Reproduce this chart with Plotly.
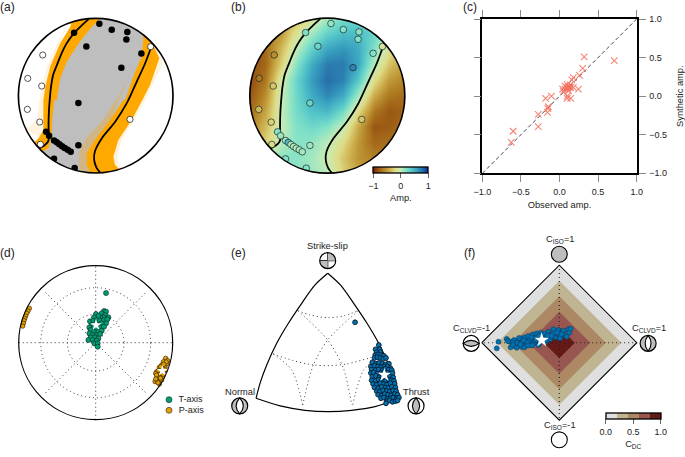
import plotly.graph_objects as go

W, H = 685, 457
FONT = "Liberation Sans"
INK = "#222222"

# ---------- DATA ----------
# (a)/(b) stations on the focal sphere projection
pos_x = [-.28, .047, .207, .409, .397, -.121, .591, .332, -.224, -.642, -.603, -.539, -.504, -.47, -.435, -.401, -.362, -.323, -.224, -.539, -.272]
pos_y = [.815, .931, .853, .823, .728, .638, .547, .362, -.095, -.466, -.517, -.578, -.603, -.629, -.655, -.677, -.698, -.724, -.642, -.815, -.935]
neg_x = [-.685, -.879, -.698, -.884, -.724, -.716, .711, .444]
neg_y = [.526, .224, .125, -.177, -.341, -.629, .634, -.306]
pos_amp = [.22, .15, .2, .18, .2, .3, .2, .72, .3, .2, .12, .12, .45, .1, .07, .08, .1, .1, .12, .2, .2]
neg_amp = [-.55, -.65, -.3, -.35, -.25, -.2, -.1, -.3]

nodal_left_x = [-.09, -.17, -.28, -.38, -.44, -.50, -.55, -.58, -.59, -.605, -.61, -.605, -.62, -.66, -.73]
nodal_left_y = [.995, .92, .81, .67, .55, .40, .27, .10, 0, -.2, -.4, -.55, -.6, -.64, -.68]
nodal_right_x = [.74, .72, .64, .53, .40, .25, .08, -.01, -.02, .01, .06]
nodal_right_y = [.67, .63, .42, .18, -.10, -.34, -.55, -.72, -.83, -.93, -.998]

gray_x = nodal_left_x[::-1] + [-.09, 0, .85] + nodal_right_x + [.06, -.85]
gray_y = nodal_left_y[::-1] + [.995, 1.1, 1.1] + nodal_right_y + [-1.1, -1.1]

band_left_x = [-.30, -.33, -.46, -.59, -.647, -.677, -.677, -.677, -.74, -.80, -.68, -.61, -.57, -.56, -.534, -.504, -.46, -.375, -.22, -.07, .04, .04]
band_left_y = [1.0, .89, .68, .375, .138, -.056, -.25, -.444, -.55, -.61, -.72, -.68, -.53, -.27, -.056, -.056, .224, .44, .68, .87, .98, 1.02]
fan_left_x = [-.36, -.5, -.63, -.69, -.73, -.76, -.90, -.62, -.62, -.36]
fan_left_y = [.94, .68, .375, .138, -.06, -.3, -.44, -.6, .3, .94]

band_right_x = [.70, .724, .823, .767, .703, .616, .466, .293, .228, .25, .328, .34, -.08, -.073, -.116, -.116, -.009, .185, .358, .38, .422, .509, .595, .616, .60]
band_right_y = [.72, .70, .483, .31, .138, -.034, -.315, -.573, -.789, -.897, -.97, -1.05, -1.05, -.983, -.897, -.746, -.573, -.315, -.056, -.056, .073, .31, .504, .741, .82]
fan_right_x = [.79, .87, .80, .72, .64, .49, .34, .28, .31, .40, .10, .10, .5, .79]
fan_right_y = [.60, .42, .27, .10, -.06, -.32, -.57, -.79, -.90, -1.0, -1.0, -.6, .1, .60]
fan_inner_x = [.45, .30, .10, -.12, -.21, -.22, -.20, .0, .0, .2, .45]
fan_inner_y = [.30, .0, -.30, -.55, -.72, -.86, -1.0, -1.0, -.7, -.3, .30]

# (b) amplitude grid
grid_x = [-1, -.8, -.6, -.4, -.2, 0, .2, .4, .6, .8, 1]
grid_y = [1, .8, .6, .4, .2, 0, -.2, -.4, -.6, -.8, -1]
amp_row_1 = [-.5, -.5, -.45, -.35, -.12, .1, .25, .3, .2, .05, -.1]
amp_row_2 = [-.7, -.65, -.5, -.13, .12, .33, .45, .45, .3, 0, -.3]
amp_row_3 = [-.85, -.72, -.35, .03, .35, .58, .65, .55, .2, -.15, -.4]
amp_row_4 = [-.85, -.72, -.25, .18, .55, .75, .75, .55, .05, -.32, -.5]
amp_row_5 = [-.85, -.65, -.06, .3, .62, .8, .72, .38, -.18, -.5, -.6]
amp_row_6 = [-.8, -.55, -.02, .28, .55, .7, .55, .1, -.42, -.65, -.7]
amp_row_7 = [-.7, -.45, 0, .25, .42, .47, .25, -.2, -.65, -.8, -.75]
amp_row_8 = [-.6, -.35, 0, .2, .28, .2, 0, -.42, -.8, -.78, -.7]
amp_row_9 = [-.5, -.25, .03, .2, .15, .03, -.2, -.5, -.72, -.68, -.6]
amp_row_10 = [-.05, .1, .18, .18, .1, -.02, -.3, -.52, -.6, -.55, -.5]
amp_row_11 = [.1, .15, .18, .17, .12, .03, -.25, -.42, -.5, -.5, -.45]
amp_rows = [amp_row_1, amp_row_2, amp_row_3, amp_row_4, amp_row_5, amp_row_6,
            amp_row_7, amp_row_8, amp_row_9, amp_row_10, amp_row_11]

# (c) observed vs synthetic amplitudes
obs_amp = [.32, .71, .30, .26, .18, .16, .10, .14, .07, .115, .095, .13, .105, .145, .07, .04, .18, .245, .115, .05, -.18, -.105, .10, .10, .145, -.145, -.155, -.275, -.275, -.60, -.625, -.15]
syn_amp = [.51, .46, .36, .27, .24, .21, .15, .145, .13, .12, .115, .115, .10, .115, .09, .09, .115, .09, .07, .06, -.03, 0, 0, -.03, -.03, -.136, -.21, -.235, -.395, -.455, -.60, -.16]
amp_ticks = [-1, -.5, 0, .5, 1]

# (d) axes of the moment tensor solutions
t_x = [.108, .134, .078, .121, .165, .1, .056, .004, .035, -.022, -.074, -.03, .013, .056, .108, .152, .134, .078, .035, -.052, -.082, -.03, .013, .065, .108, -.065, -.022, .035, .078, -.082, -.039, .013, .056, -.065, -.009, .035, -.095, -.039, .013, -.017, .026, .026, .134]
t_y = [.411, .403, .381, .359, .329, .329, .329, .372, .346, .329, .277, .286, .294, .286, .294, .303, .251, .251, .229, .229, .199, .186, .186, .199, .208, .165, .143, .143, .156, .121, .1, .1, .113, .069, .069, .056, .035, .035, .026, -.009, -.009, -.052, .645]
p_x = [.909, .935, .879, .922, .857, .827, .9, .792, .835, .87, .801, .779, .835, .771, .827, .801, .857, .89, .86, .845, .915, .90, .815, .79, .84, .81, .875, .885, .78, -.861, -.879, -.896, -.909, -.922, -.931, -.939, -.948]
p_y = [-.203, -.234, -.247, -.277, -.29, -.32, -.32, -.377, -.398, -.442, -.442, -.398, -.355, -.506, -.537, -.494, -.485, -.37, -.33, -.31, -.25, -.35, -.36, -.42, -.46, -.52, -.41, -.28, -.47, .446, .411, .381, .346, .316, .286, .251, .216]
t_best = (.004, .229)
p_best = (.866, -.364)

# (e) fault-type diagram
tri_left_x = [-.995, -.94, -.847, -.708, -.546, -.361, -.176, 0]
tri_left_y = [0, .208, .463, .764, 1.042, 1.319, 1.574, 1.736]
tri_right_x = [0, .176, .361, .546, .708, .847, .94, .995]
tri_right_y = [1.736, 1.574, 1.319, 1.042, .764, .463, .208, 0]
tri_bottom_x = [.995, .657, .333, .01, -.315, -.66, -.995]
tri_bottom_y = [0, -.116, -.167, -.185, -.167, -.106, 0]
grid_lines_e = [
    ([-.417, -.245, 0, .218, .426], [1.218, 1.157, 1.12, 1.144, 1.218]),
    ([-.755, -.477, -.199, .032, .264, .565, .796], [.616, .523, .463, .454, .477, .556, .625]),
    ([.426, 0, -.199, -.347], [1.218, .81, .463, -.093]),
    ([-.417, 0, .218, .333], [1.218, .81, .417, -.093]),
    ([-.755, -.5, -.347], [.616, .394, -.093]),
    ([.755, .5, .347], [.616, .394, -.093]),
]
fault_x = [.38, .71, .665, .72, .68, .73, .66, .70, .74, .78, .65, .69, .73, .77, .81,
           .62, .67, .71, .76, .80, .85, .60, .65, .70, .74, .79, .83, .87,
           .61, .66, .71, .76, .80, .85, .89, .60, .64, .69, .74, .78, .83, .88, .90,
           .62, .67, .72, .77, .81, .86, .91, .61, .66, .71, .75, .80, .85, .89, .92,
           .63, .68, .73, .78, .82, .87, .93, .65, .70, .75, .80, .84, .89, .94,
           .68, .72, .77, .82, .86, .91, .95, .70, .75, .79, .84, .88, .93, .97,
           .74, .78, .83, .87, .91, .96, .99, .82, .86, .90, .94, .97, .81]
fault_y = [1.056, .74, .68, .68, .64, .64, .60, .61, .60, .59, .56, .57, .56, .55, .56,
           .50, .48, .49, .48, .47, .48, .44, .45, .44, .43, .44, .44, .42,
           .40, .39, .40, .39, .41, .40, .39, .35, .36, .34, .35, .36, .35, .34, .35,
           .30, .31, .29, .30, .31, .30, .29, .25, .24, .26, .25, .24, .26, .25, .24,
           .20, .19, .21, .20, .19, .21, .20, .15, .14, .16, .15, .14, .16, .15,
           .10, .09, .11, .10, .09, .11, .10, .05, .04, .06, .05, .04, .06, .05,
           .00, .01, -.01, .00, .01, .00, .01, -.04, -.03, -.05, -.04, -.03, -.07]
fault_best = (.787, .324)

# (f) source type diagram
cdc_edge = [1, .8, .6, .4, .2]
cdc_levels = [0, .25, .5, .75, 1]
cdc_ticks = [0, .5, 1]
cdc_colors = ["#dfdfdf", "#bfb592", "#ad8864", "#985650", "#651a18"]
src_x = [-.785, -.807, -.678, -.635, -.584, -.627, -.571, -.584, -.528, -.528, -.485, -.485, -.485, -.442, -.442, -.429, -.399, -.386, -.378, -.343, -.335, -.326, -.292, -.283, -.27, -.24, -.227, -.185, -.172, -.172, -.142, -.12, -.12, -.077, -.069, -.056, -.013, 0, .009, .052, .06, .116, .129, .094, .146, -.55, -.46, -.41, -.36, -.31, -.26, -.2, -.15, -.09, -.03, .03, -.52, -.6, -.66, -.6, -.55, -.5, -.45, -.4, -.35, -.3, -.25, -.2, -.16, -.1]
src_y = [.013, -.073, .047, .013, .034, -.06, -.043, -.009, .021, -.03, .056, .004, -.052, .069, .013, -.034, .086, .034, -.017, .107, .056, 0, .12, .069, -.03, .129, .077, .112, .069, .013, .142, .099, .043, .172, .12, .069, .163, .112, .056, .155, .099, .172, .129, .077, .18, 0, .03, 0, .07, .03, .09, .05, .09, .08, .13, .11, .06, 0, .02, -.03, -.065, -.02, -.06, -.035, -.035, .035, .0, .02, .035, .09]
src_best = (-.227, .034)

ROMA = [[0, "#7e1700"], [.1, "#9a5813"], [.2, "#b38226"], [.3, "#ccaf4e"], [.4, "#e0db86"],
        [.5, "#c7edb5"], [.6, "#83e2c8"], [.7, "#55c6c9"], [.8, "#39a0c0"], [.9, "#2670aa"], [1, "#033296"]]

# ---------- LAYOUT HELPERS ----------
fig = go.Figure()
shapes, annos = [], []
layout_axes = {}
count = [0]


def panel(cx, cy, scale, left, right, top, bottom):
    """Hidden unit axes: centre (cx, cy) in px, scale px/unit, extents in px from centre."""
    count[0] += 1
    n = count[0]
    xn = "xaxis" + ("" if n == 1 else str(n))
    yn = "yaxis" + ("" if n == 1 else str(n))
    xa = "x" + ("" if n == 1 else str(n))
    ya = "y" + ("" if n == 1 else str(n))
    layout_axes[xn] = dict(domain=[(cx - left) / W, (cx + right) / W], range=[-left / scale, right / scale],
                           visible=False, anchor=ya, fixedrange=True)
    layout_axes[yn] = dict(domain=[1 - (cy + bottom) / H, 1 - (cy - top) / H], range=[-bottom / scale, top / scale],
                           visible=False, anchor=xa, fixedrange=True)
    return xa, ya


def text(px, py, s, size=9.3, **kw):
    annos.append(dict(xref="paper", yref="paper", x=px / W, y=1 - py / H, text=s, showarrow=False,
                      font=dict(family=FONT, size=size, color=INK), xanchor=kw.get("xanchor", "center"),
                      yanchor="middle"))


def circle(xa, ya, x, y, r, lw=1.0, color="black", fill=None, dash=None, layer="above"):
    shapes.append(dict(type="circle", xref=xa, yref=ya, x0=x - r, x1=x + r, y0=y - r, y1=y + r, layer=layer,
                       line=dict(width=lw, color=color, dash=dash or "solid"), fillcolor=fill or "rgba(0,0,0,0)"))


def path(xa, ya, d, lw=1.0, fill=None):
    shapes.append(dict(type="path", xref=xa, yref=ya, path=d, line=dict(width=lw, color="black"),
                       fillcolor=fill or "rgba(0,0,0,0)"))


def poly(xa, ya, xs, ys, color, opacity=1.0):
    fig.add_trace(go.Scatter(x=xs, y=ys, xaxis=xa, yaxis=ya, mode="lines", fill="toself", fillcolor=color,
                             opacity=opacity, line=dict(width=0, shape="linear"), hoverinfo="skip"))


def curve(xa, ya, xs, ys, lw=1.8, color="black", dash="solid", shape="spline"):
    fig.add_trace(go.Scatter(x=xs, y=ys, xaxis=xa, yaxis=ya, mode="lines",
                             line=dict(width=lw, color=color, dash=dash, shape=shape, smoothing=.8), hoverinfo="skip"))


def dots(xa, ya, xs, ys, size, color, edge="#111111", ew=.6, symbol="circle", **kw):
    fig.add_trace(go.Scatter(x=xs, y=ys, xaxis=xa, yaxis=ya, mode="markers",
                             marker=dict(size=size, color=color, symbol=symbol, line=dict(width=ew, color=edge), **kw),
                             hoverinfo="skip"))


def ring(xa, ya, R, width=90):
    r = 1 + width / 2 / R
    circle(xa, ya, 0, 0, r, lw=width, color="white")


# ---------- (a) ----------
R_A = 77.3
xa, ya = panel(95.7, 95.7, R_A, 95, 95, 95, 95)
poly(xa, ya, gray_x, gray_y, "#bebebe")
poly(xa, ya, fan_left_x, fan_left_y, "#ffa500", .13)
poly(xa, ya, fan_right_x, fan_right_y, "#ffa500", .13)
poly(xa, ya, fan_inner_x, fan_inner_y, "#ffa500", .3)
poly(xa, ya, band_left_x, band_left_y, "#ffa800")
poly(xa, ya, band_right_x, band_right_y, "#ffa800")
curve(xa, ya, nodal_left_x, nodal_left_y)
curve(xa, ya, nodal_right_x, nodal_right_y)
dots(xa, ya, pos_x, pos_y, 6.5, "black", ew=0)
dots(xa, ya, neg_x, neg_y, 6.2, "white", ew=.7)
ring(xa, ya, R_A)
circle(xa, ya, 0, 0, 1, lw=1.7)

# ---------- (b) ----------
R_B = 77.5
xb, yb = panel(327.3, 95.7, R_B, 95, 95, 95, 95)
fig.add_trace(go.Heatmap(x=grid_x, y=grid_y, z=amp_rows, xaxis=xb, yaxis=yb, zsmooth="best", zmin=-1, zmax=1,
                         colorscale=ROMA, hoverinfo="skip",
                         colorbar=dict(orientation="h", x=373.3 / W, xanchor="left", xref="paper", y=1 - 166.7 / H,
                                       yanchor="top", yref="paper", lenmode="pixels", len=55, thicknessmode="pixels",
                                       thickness=6.4, xpad=0, ypad=0, outlinewidth=1.3, outlinecolor="black",
                                       tickmode="array", tickvals=[-1, 0, 1], ticks="outside", ticklen=5,
                                       tickcolor="#666666", tickfont=dict(family=FONT, size=9, color=INK),
                                       title=dict(text="Amp.", side="bottom", font=dict(family=FONT, size=9.3, color=INK)))))
curve(xb, yb, nodal_left_x, nodal_left_y)
curve(xb, yb, nodal_right_x, nodal_right_y)
dots(xb, yb, pos_x + neg_x, pos_y + neg_y, 6.6, pos_amp + neg_amp, edge="#1a2a2a", ew=.7,
     colorscale=ROMA, cmin=-1, cmax=1)
ring(xb, yb, R_B)
circle(xb, yb, 0, 0, 1, lw=1.7)

# ---------- (c) ----------
count[0] += 1
nc = count[0]
xc, yc = f"x{nc}", f"y{nc}"
axis_c = dict(range=[-1, 1], tickvals=amp_ticks, tickformat=".1f", ticks="outside", ticklen=7, tickwidth=1.2,
              tickcolor="#8a8a8a", showline=True, linecolor="black", linewidth=1.6, mirror="ticks", showgrid=False,
              zeroline=False, fixedrange=True, ticklabelstandoff=2, tickfont=dict(family=FONT, size=9, color=INK))
layout_axes[f"xaxis{nc}"] = dict(axis_c, domain=[482.3 / W, 636.7 / W], anchor=yc, side="bottom",
                                 title=dict(text="Observed amp.", font=dict(family=FONT, size=9.3, color=INK), standoff=6))
layout_axes[f"yaxis{nc}"] = dict(axis_c, domain=[1 - 173.3 / H, 1 - 19 / H], anchor=xc, side="right",
                                 title=dict(text="Synthetic amp.", font=dict(family=FONT, size=9.3, color=INK), standoff=14))
curve(xc, yc, [-1, 1], [-1, 1], lw=.9, color="#333333", dash="4px,2.5px", shape="linear")
fig.add_trace(go.Scatter(x=obs_amp, y=syn_amp, xaxis=xc, yaxis=yc, mode="markers", hoverinfo="skip",
                         marker=dict(symbol="x-thin", size=6.5, line=dict(width=1.1, color="#f4705f"), opacity=.85)))

# ---------- (d) ----------
R_D = 77
xd, yd = panel(95.7, 342.7, R_D, 85, 125, 85, 85)
DOT = "1px,3px"
for r in (.368, .714):
    circle(xd, yd, 0, 0, r, lw=1, color="#333333", dash=DOT, layer="below")
for sx, sy in ((1, 0), (0, 1), (.65, .65), (.65, -.65)):
    curve(xd, yd, [-sx, sx], [-sy, sy], lw=1, color="#333333", dash=DOT, shape="linear")
dots(xd, yd, t_x, t_y, 5, "#009e73", edge="#10302a", ew=.7)
dots(xd, yd, p_x, p_y, 4.4, "#e69f00", edge="#3a2a00", ew=.7)
dots(xd, yd, [t_best[0], p_best[0]], [t_best[1], p_best[1]], 8.5, "white", edge="white", ew=0, symbol="star")
circle(xd, yd, 0, 0, 1, lw=1.2)
for name, ky, col in (("T-axis", -.74, "#009e73"), ("P-axis", -.878, "#e69f00")):
    fig.add_trace(go.Scatter(x=[.952], y=[ky], xaxis=xd, yaxis=yd, mode="markers+text", text=["  " + name],
                             textposition="middle right", textfont=dict(family=FONT, size=9, color=INK),
                             marker=dict(size=6, color=col, line=dict(width=.6, color="#222222")), hoverinfo="skip"))

# ---------- (e) ----------
U_E = 72
xe, ye = panel(327.7, 398.3, U_E, 100, 100, 160, 30)
for gx, gy in grid_lines_e:
    curve(xe, ye, gx, gy, lw=1, color="#333333", dash=DOT)
curve(xe, ye, tri_left_x, tri_left_y, lw=1.2)
curve(xe, ye, tri_right_x, tri_right_y, lw=1.2)
curve(xe, ye, tri_bottom_x, tri_bottom_y, lw=1.2)
dots(xe, ye, fault_x, fault_y, 4.8, "#0072b2", edge="#0a1a2a", ew=.9)
dots(xe, ye, [fault_best[0]], [fault_best[1]], 10, "white", edge="white", ew=0, symbol="star")
rb = .111
# strike-slip ball
bx, by = 0, 1.912
path(xe, ye, f"M{bx},{by} L{bx},{by+rb} Q{bx+rb},{by+rb} {bx+rb},{by} Z", lw=0, fill="#bdbdbd")
path(xe, ye, f"M{bx},{by} L{bx},{by-rb} Q{bx-rb},{by-rb} {bx-rb},{by} Z", lw=0, fill="#bdbdbd")
circle(xe, ye, bx, by, rb, lw=1.2)
curve(xe, ye, [bx - rb, bx + rb], [by, by], lw=1.2, shape="linear")
curve(xe, ye, [bx, bx], [by - rb, by + rb], lw=1.2, shape="linear")
# normal ball
bx, by = -1.222, -.106
circle(xe, ye, bx, by, rb, lw=1.2, fill="#bdbdbd")
path(xe, ye, f"M{bx},{by+rb} Q{bx+.9*rb},{by} {bx},{by-rb} Q{bx-.9*rb},{by} {bx},{by+rb} Z", lw=1.1, fill="white")
# thrust ball
bx, by = 1.227, -.106
circle(xe, ye, bx, by, rb, lw=1.2, fill="white")
path(xe, ye, f"M{bx},{by+rb} Q{bx+.9*rb},{by} {bx},{by-rb} Q{bx-.9*rb},{by} {bx},{by+rb} Z", lw=1.1, fill="#bdbdbd")
text(327.7, 245.7, "Strike-slip")
text(240, 391.7, "Normal")
text(416, 391.7, "Thrust")

# ---------- (f) ----------
U_F = 77.5
xf, yf = panel(559.3, 342.7, U_F, 110, 110, 105, 110)
for edge, col in zip(cdc_edge, cdc_colors):
    fig.add_trace(go.Scatter(x=[-edge, 0, edge, 0, -edge], y=[0, edge, 0, -edge, 0], xaxis=xf, yaxis=yf, mode="lines",
                             fill="toself", fillcolor=col, hoverinfo="skip",
                             line=dict(width=1.1 if edge == 1 else 0, color="black")))
cdc_scale = []
for i, col in enumerate(cdc_colors):
    cdc_scale += [[i / 5, col], [(i + 1) / 5, col]]
fig.add_trace(go.Scatter(x=[0] * 5, y=[0] * 5, xaxis=xf, yaxis=yf, mode="markers", hoverinfo="skip",
                         marker=dict(size=1, opacity=0, color=cdc_levels, cmin=0, cmax=1, colorscale=cdc_scale, showscale=True,
                                     colorbar=dict(orientation="h", x=605.7 / W, xanchor="left", xref="paper",
                                                   y=1 - 413.3 / H, yanchor="top", yref="paper", lenmode="pixels", len=54.5,
                                                   thicknessmode="pixels", thickness=6, xpad=0, ypad=0, outlinewidth=1.3,
                                                   outlinecolor="black", tickmode="array", tickvals=cdc_ticks,
                                                   ticktext=["0.0", "0.5", "1.0"], ticks="outside", ticklen=5,
                                                   tickcolor="#666666", tickfont=dict(family=FONT, size=9, color=INK),
                                                   title=dict(text="C<sub>DC</sub>", side="bottom",
                                                              font=dict(family=FONT, size=9.3, color=INK))))))
curve(xf, yf, [-.97, .97], [0, 0], lw=1.1, color="#222222", dash=DOT, shape="linear")
curve(xf, yf, [0, 0], [-.97, .97], lw=1.1, color="#222222", dash=DOT, shape="linear")
dots(xf, yf, src_x, src_y, 5, "#0072b2", edge="#0b3c60")
dots(xf, yf, [src_best[0]], [src_best[1]], 11, "white", edge="white", ew=0, symbol="star")
rf = .103
circle(xf, yf, 0, 1.142, rf, lw=1.1, fill="#bdbdbd")
circle(xf, yf, 0, -1.253, rf, lw=1.1, fill="white")
bx, by = -1.137, -.009
circle(xf, yf, bx, by, rf, lw=1.2, fill="white")
path(xf, yf, f"M{bx-rf},{by} Q{bx},{by+.75*rf} {bx+rf},{by} Q{bx},{by-.75*rf} {bx-rf},{by} Z", lw=1.1, fill="#bdbdbd")
bx, by = 1.146, -.009
circle(xf, yf, bx, by, rf, lw=1.2, fill="#bdbdbd")
path(xf, yf, f"M{bx},{by+rf} Q{bx+.75*rf},{by} {bx},{by-rf} Q{bx-.75*rf},{by} {bx},{by+rf} Z", lw=1.1, fill="white")
text(560, 240, "C<sub>ISO</sub>=1")
text(560, 425, "C<sub>ISO</sub>=-1")
text(471, 328.3, "C<sub>CLVD</sub>=-1")
text(649, 328.3, "C<sub>CLVD</sub>=1")

# ---------- panel letters ----------
for lab, px_, py_ in (("(a)", 7, 7), ("(b)", 238, 7), ("(c)", 470, 7), ("(d)", 7, 253), ("(e)", 239, 253), ("(f)", 469, 253)):
    text(px_, py_, lab, size=12)

fig.update_layout(width=W, height=H, margin=dict(l=0, r=0, t=0, b=0, autoexpand=False), paper_bgcolor="white",
                  plot_bgcolor="rgba(0,0,0,0)", showlegend=False, shapes=shapes, annotations=annos,
                  font=dict(family=FONT, color=INK), **layout_axes)
fig.write_html("out.html", config=dict(displayModeBar=False),
               post_script="document.body.style.margin='0';document.documentElement.style.overflow='hidden';")
